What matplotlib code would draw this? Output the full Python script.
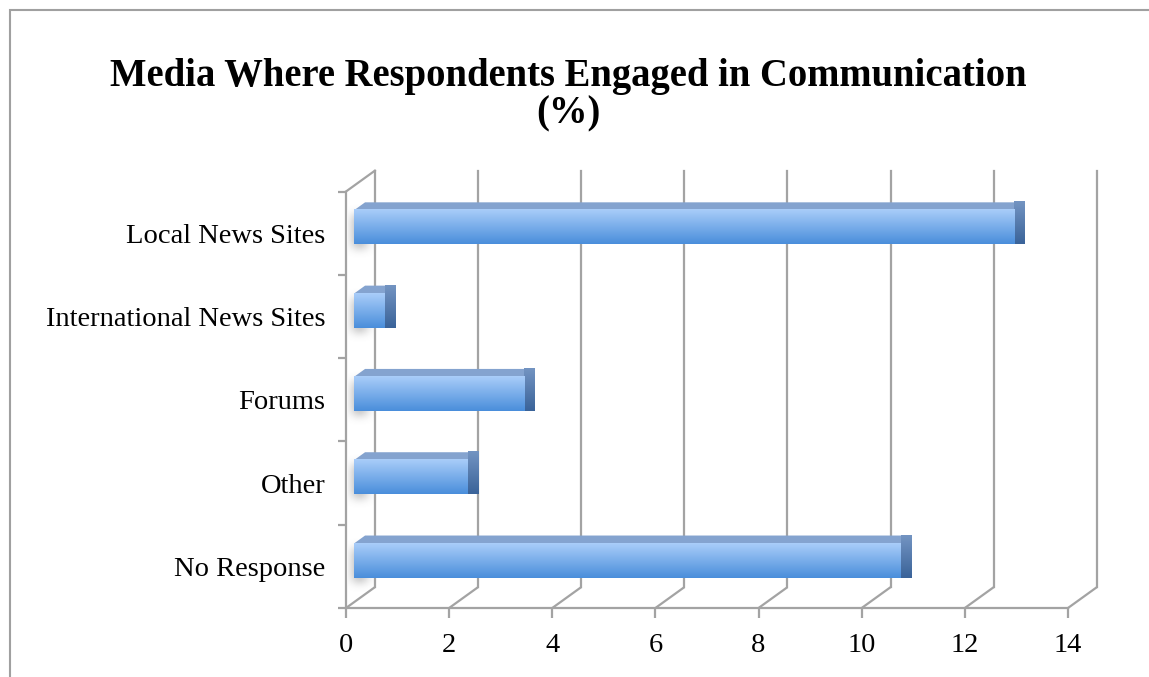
import numpy as np
import matplotlib
matplotlib.use("Agg")
import matplotlib.pyplot as plt
from matplotlib.patches import Polygon, Rectangle
from matplotlib.colors import to_rgb

categories = ["No Response", "Other", "Forums", "International News Sites", "Local News Sites"]
values = [10.6, 2.2, 3.3, 0.6, 12.8]
xticks = [0, 2, 4, 6, 8, 10, 12, 14]
title = "Media Where Respondents Engaged in Communication\n(%)"

# depth of the 3-D box in data units
DX, DY = 0.56, 0.25
F0, F1 = 0.28, 0.66     # bar front / back plane as fraction of depth
BAR_H = 0.41
GRID = "#a3a3a3"

fig = plt.figure(figsize=(11.49, 6.77), dpi=100)
W, H = 1149, 677
x0px, y0px = 346, 608
ux, uy = 51.57, 83.3
ax = fig.add_axes([x0px / W, (H - y0px) / H, (14 + DX) * ux / W, (5 + DY) * uy / H])
xmax, ymax = 14 + DX, 5 + DY


def gradient(ax, extent, c_top, c_bot, clip=None, z=3):
    t = np.linspace(0, 1, 64)[:, None]
    a, b = np.array(to_rgb(c_bot)), np.array(to_rgb(c_top))
    img = (a[None, None, :] * (1 - t[..., None]) + b[None, None, :] * t[..., None])
    img = np.repeat(img, 2, axis=1)
    im = ax.imshow(img, extent=extent, origin="lower", aspect="auto",
                   interpolation="bilinear", zorder=z, clip_on=False)
    if clip is not None:
        im.set_clip_path(clip)
    return im


# walls and gridlines
for x in xticks:
    ax.plot([x, x + DX], [0, DY], color=GRID, lw=1.6, zorder=1, clip_on=False,
            solid_capstyle="butt")
    ax.plot([x + DX, x + DX], [DY, 5 + DY], color=GRID, lw=1.6, zorder=1, clip_on=False)
ax.plot([0, 14], [0, 0], color=GRID, lw=1.6, zorder=1, clip_on=False)
ax.plot([0, 0], [0, 5], color=GRID, lw=1.6, zorder=1, clip_on=False)
ax.plot([0, DX], [5, 5 + DY], color=GRID, lw=1.6, zorder=1, clip_on=False)

# soft shadow of each bar on the side wall
for i in range(len(categories)):
    yy = np.linspace(-1, 1, 60)[:, None]
    xx = np.linspace(0, 1, 30)[None, :]
    a = np.exp(-(yy * 1.6) ** 4) * np.exp(-((xx - 0.45) * 2.6) ** 2) * 0.45
    img = np.zeros((60, 30, 4))
    img[..., :3] = 0.45
    img[..., 3] = a
    yc = i + 0.5 + 0.02
    ax.imshow(img, extent=[0.03, DX * 0.95, yc - 0.36, yc + 0.36], origin="lower",
              aspect="auto", interpolation="bilinear", zorder=1.5)

# bars
for i, v in enumerate(values):
    yc = i + 0.5
    fx, fy = F0 * DX, yc + F0 * DY
    bx, by = (F1 - F0) * DX, (F1 - F0) * DY
    yb, yt = fy - BAR_H / 2, fy + BAR_H / 2
    # top face
    top = Polygon([[fx, yt], [fx + v, yt], [fx + v + bx, yt + by], [fx + bx, yt + by]],
                  closed=True, facecolor="#84a3cf", edgecolor="none", zorder=3)
    ax.add_patch(top)
    # right face
    side = Polygon([[fx + v, yb], [fx + v + bx, yb + by], [fx + v + bx, yt + by], [fx + v, yt]],
                   closed=True, facecolor="none", edgecolor="none", zorder=3)
    ax.add_patch(side)
    gradient(ax, [fx + v, fx + v + bx, yb, yt + by], "#7394c2", "#3a6399", clip=side, z=3)
    # front face
    front = Rectangle((fx, yb), v, BAR_H, facecolor="none", edgecolor="none", zorder=4)
    ax.add_patch(front)
    gradient(ax, [fx, fx + v, yb, yt], "#a9cdf9", "#4a8edb", clip=front, z=4)

ax.set_xlim(0, xmax)
ax.set_ylim(0, ymax)
for s in ax.spines.values():
    s.set_visible(False)

font = dict(family="Liberation Serif", size=20.5)
ax.set_xticks(xticks)
ax.set_xticklabels([str(t) for t in xticks], fontdict=font)
ax.tick_params(axis="x", length=7, width=1.6, color=GRID, pad=11)
ax.set_yticks(range(6))
ax.set_yticklabels([])
ax.tick_params(axis="y", which="major", length=6, width=1.6, color=GRID)
ax.set_yticks([i + 0.5 for i in range(len(categories))], minor=True)
ax.set_yticklabels(categories, minor=True, fontdict=font)
ax.tick_params(axis="y", which="minor", length=0, pad=15)

fig.text(568 / W, 1 - 95 / H, title, ha="center", va="center",
         family="Liberation Serif", weight="bold", size=27.8, linespacing=1.02)

# chart frame
fig.patches.append(Rectangle((10 / W, -0.1), 1.2, 1 - 10 / H + 0.1, transform=fig.transFigure,
                             facecolor="none", edgecolor="#a0a0a0", lw=1.5, zorder=0))

fig.savefig("out.png", dpi=100)
